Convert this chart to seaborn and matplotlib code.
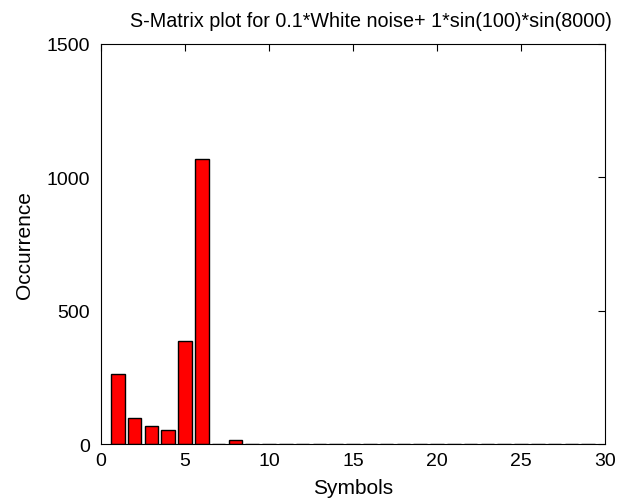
import numpy as np
import pandas as pd
import matplotlib
matplotlib.use("Agg")
import matplotlib.pyplot as plt
import seaborn as sns

symbols = list(range(1, 30))
counts = [261, 99, 67, 52, 386, 1069, 0, 16] + [0] * 21
title = "S-Matrix plot for 0.1*White noise+ 1*sin(100)*sin(8000)"

sns.set_style("white")
plt.rcParams['font.family'] = ['Liberation Sans', 'DejaVu Sans']
plt.rcParams['text.color'] = 'black'
plt.rcParams['axes.labelcolor'] = 'black'
plt.rcParams['xtick.color'] = 'black'
plt.rcParams['ytick.color'] = 'black'

fig = plt.figure(figsize=(6.25, 5.02), dpi=100)
ax = fig.add_axes([0.1616, 0.1135, 0.8064, 0.7969])
df = pd.DataFrame({"Symbols": symbols, "Occurrence": counts})
sns.barplot(data=df, x="Symbols", y="Occurrence", native_scale=True, width=0.8,
            color="red", saturation=1, edgecolor="black", linewidth=1, ax=ax)
ax.set_xlim(0, 30)
ax.set_ylim(0, 1500)
ax.set_xticks([0, 5, 10, 15, 20, 25, 30])
ax.set_yticks([0, 500, 1000, 1500])
ax.tick_params(direction="in", top=True, right=True, length=5, labelsize=14, width=0.8)
ax.tick_params(axis="x", pad=6)
ax.tick_params(axis="y", pad=8)
for s in ax.spines.values():
    s.set_visible(True)
    s.set_color("black")
    s.set_linewidth(0.8)
ax.set_xlabel("Symbols", fontsize=15, labelpad=6)
ax.set_ylabel("Occurrence", fontsize=15, labelpad=9)
ax.set_title(title, fontsize=14.2, x=0.536, pad=13)
fig.savefig("out.png", dpi=100, facecolor="white")
